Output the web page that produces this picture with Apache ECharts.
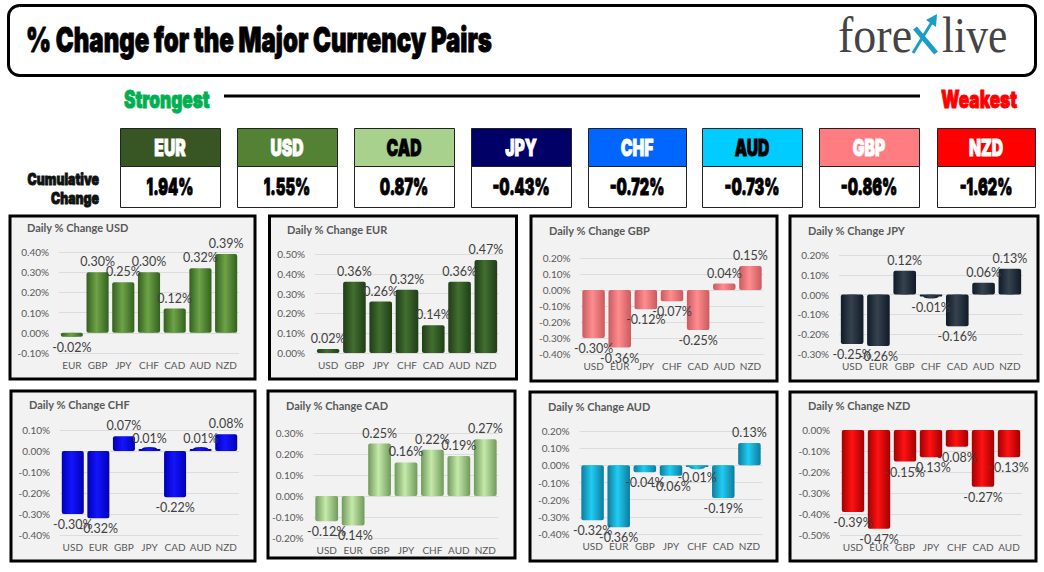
<!DOCTYPE html>
<html>
<head>
<meta charset="utf-8">
<style>
  html, body { margin: 0; padding: 0; background: #fff; }
  #main { width: 1044px; height: 572px; }
</style>
<script src="https://cdn.jsdelivr.net/npm/echarts@6/dist/echarts.min.js"></script>
</head>
<body>
<div id="main"></div>
<script>
// strength table
var rankNames = ["EUR", "USD", "CAD", "JPY", "CHF", "AUD", "GBP", "NZD"];
var rankValues = ["1.94%", "1.55%", "0.87%", "-0.43%", "-0.72%", "-0.73%", "-0.86%", "-1.62%"];

// daily panels
var usdCats = ["EUR", "GBP", "JPY", "CHF", "CAD", "AUD", "NZD"];
var usdValues = [-0.02, 0.30, 0.25, 0.30, 0.12, 0.32, 0.39];
var eurCats = ["USD", "GBP", "JPY", "CHF", "CAD", "AUD", "NZD"];
var eurValues = [0.02, 0.36, 0.26, 0.32, 0.14, 0.36, 0.47];
var gbpCats = ["USD", "EUR", "JPY", "CHF", "CAD", "AUD", "NZD"];
var gbpValues = [-0.30, -0.36, -0.12, -0.07, -0.25, 0.04, 0.15];
var jpyCats = ["USD", "EUR", "GBP", "CHF", "CAD", "AUD", "NZD"];
var jpyValues = [-0.25, -0.26, 0.12, -0.01, -0.16, 0.06, 0.13];
var chfCats = ["USD", "EUR", "GBP", "JPY", "CAD", "AUD", "NZD"];
var chfValues = [-0.30, -0.32, 0.07, 0.01, -0.22, 0.01, 0.08];
var cadCats = ["USD", "EUR", "GBP", "JPY", "CHF", "AUD", "NZD"];
var cadValues = [-0.12, -0.14, 0.25, 0.16, 0.22, 0.19, 0.27];
var audCats = ["USD", "EUR", "GBP", "JPY", "CHF", "CAD", "NZD"];
var audValues = [-0.32, -0.36, -0.04, -0.06, -0.01, -0.19, 0.13];
var nzdCats = ["USD", "EUR", "GBP", "JPY", "CHF", "CAD", "AUD"];
var nzdValues = [-0.39, -0.47, -0.15, -0.13, -0.08, -0.27, -0.13];

var rankFill = ["#375623", "#548235", "#a9d18e", "#000066", "#0066ff", "#00ccff", "#ff7c80", "#ff0000"];
var rankInk = ["#fff", "#fff", "#000", "#fff", "#fff", "#000", "#fff", "#fff"];
var rankLeft = [120, 237, 354, 471, 588, 702, 819, 937];
var rankWidth = [100, 100, 100, 100, 98, 100, 100, 98];

var panels = [
  { name: "USD", cats: usdCats, values: usdValues, min: -0.1, max: 0.4, box: [10, 216, 245, 163], titleX: 27, titleY: 227, plot: [59, 252, 180, 101], edge: "#33601f", mid: "#6ea347" },
  { name: "EUR", cats: eurCats, values: eurValues, min: 0, max: 0.5, box: [269.5, 216, 247, 163], titleX: 287, titleY: 229, plot: [315, 254, 184, 99], edge: "#1f3d17", mid: "#426f30" },
  { name: "GBP", cats: gbpCats, values: gbpValues, min: -0.4, max: 0.2, box: [531, 216, 246, 165], titleX: 549, titleY: 230, plot: [580.5, 258, 183, 96], edge: "#c95a5e", mid: "#ff8d90" },
  { name: "JPY", cats: jpyCats, values: jpyValues, min: -0.3, max: 0.2, box: [790, 216, 248, 165], titleX: 808, titleY: 230, plot: [839, 255, 184, 99], edge: "#101a28", mid: "#36434f" },
  { name: "CHF", cats: chfCats, values: chfValues, min: -0.4, max: 0.1, box: [11, 391, 244, 170], titleX: 29, titleY: 404, plot: [60, 430, 179, 105], edge: "#0000b4", mid: "#1414ff" },
  { name: "CAD", cats: cadCats, values: cadValues, min: -0.2, max: 0.3, box: [268, 391, 247, 167], titleX: 286, titleY: 405, plot: [313.5, 433, 185, 105], edge: "#6f9a5c", mid: "#c5eaaa" },
  { name: "AUD", cats: audCats, values: audValues, min: -0.4, max: 0.2, box: [530, 392, 247, 169], titleX: 548, titleY: 406, plot: [579.5, 431, 183, 103], edge: "#0b7c9e", mid: "#22ccf2" },
  { name: "NZD", cats: nzdCats, values: nzdValues, min: -0.5, max: 0, box: [790, 392, 246, 169], titleX: 808, titleY: 405, plot: [840, 430, 182, 105], edge: "#a30000", mid: "#ff1212" }
];

var myChart = echarts.init(document.getElementById("main"), null, { renderer: "svg" });

function pct(v) {
  return v.toFixed(2) + "%";
}

var graphics = [];

function heavyText(text, x, y, size, fill, align, squeeze) {
  return {
    type: "text", x: x, y: y, scaleX: squeeze, silent: true,
    style: { text: text, fill: fill, stroke: fill, lineWidth: 0.9, align: align, verticalAlign: "middle", font: "900 " + size + "px Inter" }
  };
}

function cylinder(p) {
  return new echarts.graphic.LinearGradient(0, 0, 1, 0, [
    { offset: 0, color: p.edge },
    { offset: 0.45, color: p.mid },
    { offset: 1, color: p.edge }
  ]);
}

// header
graphics.push({ type: "rect", shape: { x: 8.5, y: 5.5, width: 1027, height: 70, r: 11 }, style: { fill: "#fff", stroke: "#000", lineWidth: 3 } });
graphics.push(heavyText("% Change for the Major Currency Pairs", 26, 39, 34, "#000", "left", 0.706));

// logo
graphics.push({ type: "text", x: 838, y: 60, scaleX: 0.92, style: { text: "fore", fill: "#444", font: "50px 'Liberation Serif'", verticalAlign: "bottom" } });
graphics.push({ type: "text", x: 942, y: 60, scaleX: 0.87, style: { text: "live", fill: "#444", font: "50px 'Liberation Serif'", verticalAlign: "bottom" } });
graphics.push({ type: "polyline", shape: { points: [[915, 28], [936, 53]] }, style: { stroke: "#1b9dc9", lineWidth: 5, fill: null } });
graphics.push({ type: "polyline", shape: { points: [[913, 53], [932, 22]] }, style: { stroke: "#1b9dc9", lineWidth: 3, fill: null } });
graphics.push({ type: "polygon", shape: { points: [[937, 14], [936, 27], [926, 20]] }, style: { fill: "#1b9dc9" } });

// strongest / weakest
graphics.push(heavyText("Strongest", 124, 99, 24, "#00b050", "left", 0.717));
graphics.push(heavyText("Weakest", 941, 99, 24, "#ff0000", "left", 0.717));
graphics.push({ type: "line", shape: { x1: 224, y1: 96, x2: 920, y2: 96 }, style: { stroke: "#000", lineWidth: 3 } });

graphics.push(heavyText("Cumulative", 99, 179, 16, "#111", "right", 0.77));
graphics.push(heavyText("Change", 99, 198, 16, "#111", "right", 0.77));

rankNames.forEach(function (name, i) {
  var x = rankLeft[i], w = rankWidth[i];
  graphics.push({ type: "rect", shape: { x: x + 0.5, y: 128.5, width: w, height: 38 }, style: { fill: rankFill[i], stroke: "#222", lineWidth: 1 } });
  graphics.push({ type: "rect", shape: { x: x + 0.5, y: 166.5, width: w, height: 41 }, style: { fill: "#fff", stroke: "#222", lineWidth: 1 } });
  graphics.push(heavyText(name, x + w / 2, 148, 23, rankInk[i], "center", 0.68));
  graphics.push(heavyText(rankValues[i], x + w / 2, 187, 23, "#000", "center", 0.63));
});

// panel frames
panels.forEach(function (p) {
  graphics.push({ type: "rect", z: -10, shape: { x: p.box[0], y: p.box[1], width: p.box[2], height: p.box[3] }, style: { fill: "#f2f2f2", stroke: "#000", lineWidth: 3 } });
  graphics.push({ type: "text", x: p.titleX, y: p.titleY, style: { text: "Daily % Change " + p.name, fill: "#595959", verticalAlign: "middle", font: "bold 11px Lato" } });
});

var barSeries = panels.map(function (p, i) {
  return {
    name: p.name, type: "bar", xAxisIndex: i, yAxisIndex: i,
    data: p.values, barCategoryGap: "14%",
    itemStyle: { color: cylinder(p), borderRadius: 2 },
    label: {
      show: true, position: "outside", distance: 4,
      fontSize: 12.5, color: "#404040", fontFamily: "Lato",
      formatter: function (d) { return pct(d.value); }
    }
  };
});

// ellipse from the base outward, shows on the very short cylinders
var capSeries = panels.map(function (p, i) {
  return {
    type: "pictorialBar", xAxisIndex: i, yAxisIndex: i, symbol: "circle",
    symbolSize: ["86%", 4], symbolPosition: "start",
    itemStyle: { color: cylinder(p) },
    data: p.values
  };
});

var option = {
  animation: false,
  backgroundColor: "#fff",
  graphic: { elements: graphics },
  grid: panels.map(function (p) {
    return { left: p.plot[0], top: p.plot[1], width: p.plot[2], height: p.plot[3] };
  }),
  xAxis: panels.map(function (p, i) {
    return {
      type: "category", gridIndex: i, data: p.cats, position: "bottom",
      axisLine: { onZero: false, show: false }, axisTick: { show: false },
      axisLabel: { interval: 0, margin: 7, fontSize: 10, color: "#595959", fontFamily: "Lato" }
    };
  }),
  yAxis: panels.map(function (p, i) {
    return {
      type: "value", gridIndex: i, min: p.min, max: p.max, interval: 0.1,
      axisLine: { show: false }, axisTick: { show: false },
      axisLabel: { margin: 10, fontSize: 10, color: "#595959", fontFamily: "Lato", formatter: pct },
      splitLine: { lineStyle: { color: "#dcdcdc", width: 1 } }
    };
  }),
  series: barSeries.concat(capSeries)
};

myChart.setOption(option);
</script>
</body>
</html>
